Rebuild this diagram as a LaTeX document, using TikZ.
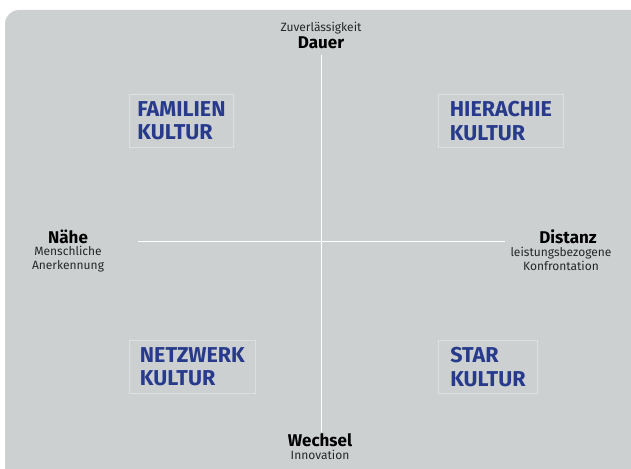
\documentclass[tikz,border=0pt]{standalone}
\usepackage{fontspec}
\setmainfont{Fira Sans}
\usepackage{xcolor}
\definecolor{bggray}{HTML}{CDD0D1}
\definecolor{boxline}{HTML}{DDE0E1}
\definecolor{kulturblue}{HTML}{283A8C}

\tikzset{
  kultur/.style={draw=boxline, line width=0.8pt, align=left, anchor=north west,
    text=kulturblue, font=\fontsize{21.5}{23.5}\selectfont\bfseries,
    inner xsep=5.5pt, inner ysep=5pt},
  axisname/.style={font=\fontsize{17}{18}\selectfont\bfseries, text=black, inner sep=1pt},
  axisnote/.style={font=\fontsize{12}{13.5}\selectfont, text=black!85, align=center, inner sep=1pt},
  axisline/.style={white, line width=0.9pt}
}

\begin{document}
\begin{tikzpicture}[x=1pt,y=-1pt]

      \useasboundingbox (0,0) rectangle (631,468);
      \fill[bggray, rounded corners=14pt] (5,10) rectangle (650,490);

      % Achsenbeschriftungen
      \node[axisnote] (zuv) at (321,28) {Zuverlässigkeit};
      \node[axisname] (dauer) at (321,43) {Dauer};
      \node[axisname] (wechsel) at (320,440) {Wechsel};
      \node[axisnote] (innov) at (320,455) {Innovation};
      \node[axisname] (naehe) at (68,237) {Nähe};
      \node[axisnote] (mensch) at (68,259) {Menschliche\\Anerkennung};
      \node[axisname] (distanz) at (568,237) {Distanz};
      \node[axisnote] (leist) at (561,259) {leistungsbezogene\\Konfrontation};

      \coordinate (west) at (138,241);
      \coordinate (east) at (505,241);
      \draw[axisline] (dauer.south |- 0,55) -- (wechsel.north -| dauer.south);
      \draw[axisline] (west) -- (east);

      % Kulturen
      \node[kultur, minimum width=104pt, minimum height=53pt] (fam) at (129,94) {FAMILIEN\\KULTUR};
      \node[kultur, minimum width=125pt, minimum height=53pt] (hier) at (438,94) {HIERACHIE\\KULTUR};
      \node[kultur, minimum width=126pt, minimum height=53pt] (netz) at (129,340) {NETZWERK\\KULTUR};
      \node[kultur, minimum width=99pt, minimum height=53pt] (star) at (438,340) {STAR\\KULTUR};

    \end{tikzpicture}
\end{document}
